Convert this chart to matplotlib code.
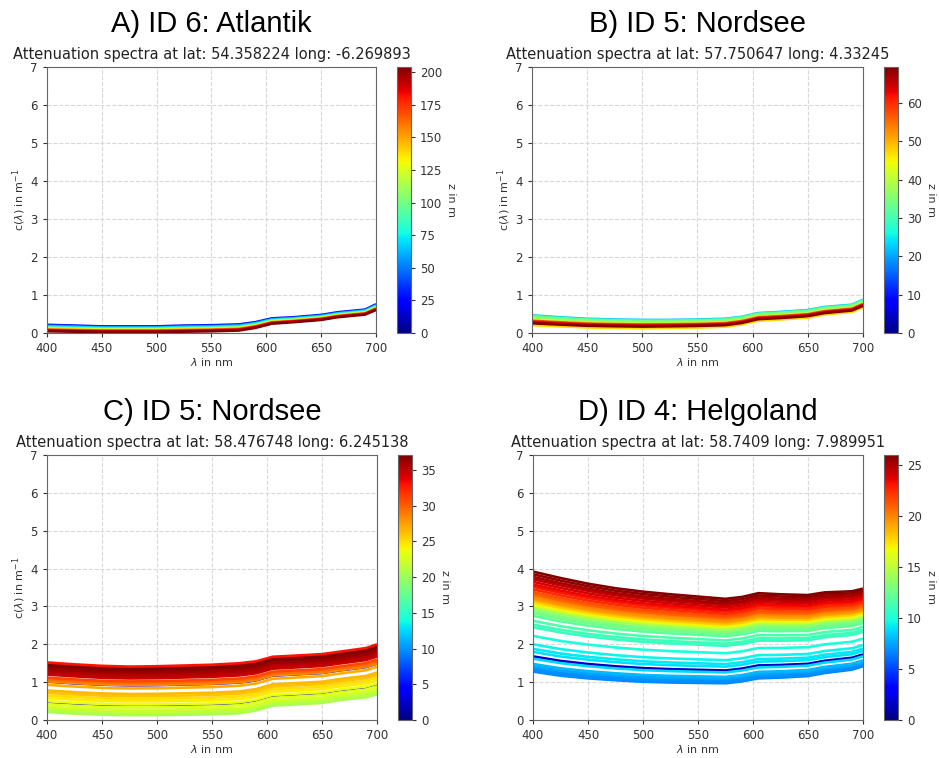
import matplotlib
matplotlib.use('Agg')
import matplotlib.pyplot as plt
import numpy as np
from matplotlib import cm, colors

WAVELENGTH = [400, 425, 450, 475, 500, 525, 550, 575, 590, 605, 625, 650, 665, 690, 700]

# A) Atlantik: lowest and highest spectrum, plus per-profile depth and c at 400 nm
A_LOW = [0.04, 0.03, 0.02, 0.02, 0.02, 0.03, 0.04, 0.06, 0.13, 0.24, 0.28, 0.34, 0.41, 0.48, 0.60]
A_HIGH = [0.22, 0.20, 0.18, 0.18, 0.18, 0.20, 0.21, 0.23, 0.29, 0.39, 0.42, 0.48, 0.55, 0.62, 0.76]
A_DEPTH = [25, 45, 70, 100, 130, 160, 185, 200, 204]
A_C400 = [0.22, 0.20, 0.18, 0.15, 0.12, 0.10, 0.08, 0.06, 0.04]

# B) Nordsee
B_LOW = [0.20, 0.17, 0.14, 0.13, 0.12, 0.13, 0.14, 0.16, 0.22, 0.32, 0.35, 0.40, 0.48, 0.55, 0.67]
B_HIGH = [0.47, 0.42, 0.38, 0.36, 0.35, 0.35, 0.36, 0.38, 0.43, 0.53, 0.56, 0.61, 0.69, 0.75, 0.88]
B_DEPTH = [22, 31, 34, 36, 38, 40, 47, 55, 62, 67, 69]
B_C400 = [0.47, 0.45, 0.42, 0.40, 0.37, 0.35, 0.20, 0.33, 0.31, 0.28, 0.25]

# C) Nordsee
C_LOW = [0.21, 0.17, 0.14, 0.13, 0.13, 0.14, 0.15, 0.18, 0.25, 0.38, 0.41, 0.45, 0.52, 0.60, 0.68]
C_HIGH = [1.52, 1.47, 1.43, 1.41, 1.42, 1.44, 1.46, 1.50, 1.55, 1.67, 1.70, 1.74, 1.80, 1.90, 2.00]
C_DEPTH = [2.5, 3, 20.5, 21, 21.5, 22.5, 23, 23.5, 24.5, 25, 26, 26.5, 27, 28.5, 29.5, 31,
           32.5, 33, 34.5, 35, 35.5, 36, 36.5, 37]
C_C400 = [1.00, 0.45, 0.21, 0.25, 0.30, 0.35, 0.42, 0.50, 0.58, 0.65, 0.72, 0.78, 0.93, 1.02, 1.07, 1.12,
          1.48, 1.52, 1.20, 1.25, 1.30, 1.35, 1.40, 1.45]

# D) Helgoland
D_LOW = [1.28, 1.17, 1.10, 1.05, 1.01, 0.99, 0.98, 0.97, 1.02, 1.10, 1.12, 1.16, 1.24, 1.33, 1.42]
D_HIGH = [3.92, 3.75, 3.60, 3.48, 3.39, 3.32, 3.26, 3.20, 3.25, 3.35, 3.32, 3.30, 3.37, 3.40, 3.47]
D_DEPTH = [1.5, 6.8, 6.9, 7, 7.5, 8, 8.8, 9, 9.2, 9.5, 10, 10.8, 11, 11.5, 12, 12.5, 13, 14, 15,
           16, 17, 18, 19, 19.5, 20, 21, 21.5, 22.5, 23, 23.5, 24, 24.5, 25, 25.5, 26]
D_C400 = [1.68, 1.28, 1.32, 1.36, 1.42, 1.48, 1.62, 1.80, 1.88, 2.00, 2.22, 2.45, 2.52, 2.62, 2.75,
          2.82, 2.88, 2.95, 3.00, 3.04, 3.08, 3.12, 3.18, 3.22, 3.27, 3.32, 3.38, 3.45, 3.52, 3.58,
          3.65, 3.72, 3.78, 3.85, 3.92]

PANELS = [
    ('A) ID 6: Atlantik', 'Attenuation spectra at lat: 54.358224 long: -6.269893',
     A_LOW, A_HIGH, A_DEPTH, A_C400, 204, [0, 25, 50, 75, 100, 125, 150, 175, 200]),
    ('B) ID 5: Nordsee', 'Attenuation spectra at lat: 57.750647 long: 4.33245',
     B_LOW, B_HIGH, B_DEPTH, B_C400, 69.4, [0, 10, 20, 30, 40, 50, 60]),
    ('C) ID 5: Nordsee', 'Attenuation spectra at lat: 58.476748 long: 6.245138',
     C_LOW, C_HIGH, C_DEPTH, C_C400, 37.1, [0, 5, 10, 15, 20, 25, 30, 35]),
    ('D) ID 4: Helgoland', 'Attenuation spectra at lat: 58.7409 long: 7.989951',
     D_LOW, D_HIGH, D_DEPTH, D_C400, 26.0, [0, 5, 10, 15, 20, 25]),
]

W, H = 939, 758
# pixel boxes: axes left, right, top, bottom
BOXES = [(47, 376, 67, 333), (532, 863, 67, 333), (47, 377, 455, 720), (533, 863, 455, 720)]

fig = plt.figure(figsize=(W / 100, H / 100), dpi=100)
fig.patch.set_facecolor('white')

wl = np.array(WAVELENGTH, dtype=float)
for idx, (title, subtitle, low, high, depths, levels, vmax, cticks) in enumerate(PANELS):
    l, r, t, b = BOXES[idx]
    ax = fig.add_axes([l / W, 1 - b / H, (r - l) / W, (b - t) / H])
    cax = fig.add_axes([(r + 21) / W, 1 - b / H, 14 / W, (b - t) / H])

    low = np.array(low)
    high = np.array(high)
    norm = colors.Normalize(vmin=0, vmax=vmax)
    cmap = plt.get_cmap('jet')

    # shallow profiles first, deeper ones drawn on top
    for z, c0 in zip(depths, levels):
        frac = (c0 - low[0]) / (high[0] - low[0])
        spec = low + frac * (high - low)
        if idx < 2:
            lw = 1.6
        elif idx == 2 and z < 5:
            lw = 1.1
        else:
            lw = 1.9
        ax.plot(wl, spec, color=cmap(norm(z)), lw=lw, solid_capstyle='butt')

    ax.set_xlim(400, 700)
    ax.set_ylim(0, 7)
    ax.set_xticks([400, 450, 500, 550, 600, 650, 700])
    ax.set_yticks(range(8))
    ax.grid(True, linestyle='--', color='#d8d8d8', linewidth=0.8)
    ax.tick_params(labelsize=8.5, colors='#333333', length=3)
    for s in ax.spines.values():
        s.set_color('#666666')
    ax.set_xlabel(r'$\lambda$ in nm', fontsize=8, color='#333333', labelpad=1)
    if idx != 3:
        ax.set_ylabel(r'c($\lambda$) in m$^{-1}$', fontsize=8, color='#333333', labelpad=2)
    ax.set_title(subtitle, fontsize=10.5, color='#222222', pad=6)

    sm = cm.ScalarMappable(norm=norm, cmap=cmap)
    cb = fig.colorbar(sm, cax=cax, ticks=cticks)
    cb.ax.tick_params(labelsize=8.5, colors='#333333', length=3)
    cb.outline.set_edgecolor('#666666')
    cb.set_label('z in m', fontsize=8, color='#333333', rotation=270, labelpad=10)

    fig.text((l + r) / 2 / W, 1 - (t - 43) / H, title, ha='center', va='center',
             fontsize=21, family='Liberation Sans', color='black')

fig.savefig('out.png', dpi=100, facecolor='white')
